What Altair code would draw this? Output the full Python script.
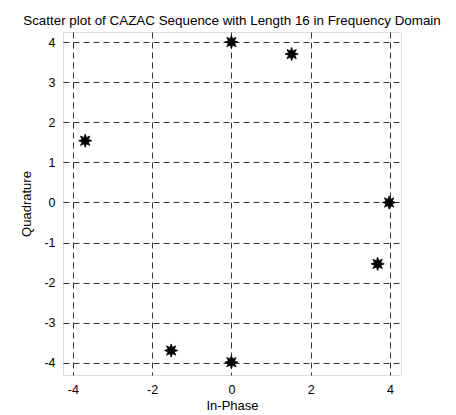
import math
import altair as alt
import pandas as pd

in_phase = [0.0, 1.52, -3.69, 3.98, 3.69, -1.52, 0.0]
quadrature = [4.0, 3.70, 1.54, 0.0, -1.53, -3.69, -3.98]
x_ticks = [-4, -2, 0, 2, 4]
y_ticks = [-4, -3, -2, -1, 0, 1, 2, 3, 4]

df = pd.DataFrame({"I": in_phase, "Q": quadrature})

# 8-pointed asterisk-like star marker (shape style only)
pts = []
for k in range(16):
    r = 1.0 if k % 2 == 0 else 0.5
    a = math.pi / 2 + k * math.pi / 8
    pts.append(f"{r * math.cos(a):.3f},{-r * math.sin(a):.3f}")
star = "M" + "L".join(pts) + "Z"

font = "Liberation Sans"

chart = alt.Chart(df).mark_point(
    shape=star, size=175, filled=True, fill="black", stroke="black", strokeWidth=0.8, opacity=1
).encode(
    x=alt.X("I:Q", scale=alt.Scale(domain=[-4.25, 4.28], nice=False, zero=False),
            axis=alt.Axis(values=x_ticks, title="In-Phase", labelExpr="'' + datum.value",
                          grid=True, gridColor="black", gridDash=[6, 4], gridOpacity=0.8,
                          domain=False, ticks=False, labelPadding=8,
                          labelFont=font, labelFontSize=12.5, labelColor="black",
                          titleFont=font, titleFontSize=13, titleFontWeight="normal",
                          titleColor="black", titlePadding=4)),
    y=alt.Y("Q:Q", scale=alt.Scale(domain=[-4.3, 4.25], nice=False, zero=False),
            axis=alt.Axis(values=y_ticks, title="Quadrature", labelExpr="'' + datum.value",
                          grid=True, gridColor="black", gridDash=[6, 4], gridOpacity=0.8,
                          domain=False, ticks=False, labelPadding=8,
                          labelFont=font, labelFontSize=12.5, labelColor="black",
                          titleFont=font, titleFontSize=13, titleFontWeight="normal",
                          titleColor="black", titlePadding=10)),
).properties(
    width=338,
    height=343,
    title=alt.TitleParams(
        "Scatter plot of CAZAC Sequence with Length 16 in Frequency Domain",
        font=font, fontSize=13.4, fontWeight="normal", color="black",
        anchor="middle", frame="group", offset=5,
    ),
    autosize=alt.AutoSizeParams(type="none"),
    padding={"left": 55, "top": 24, "right": 47, "bottom": 40},
).configure_view(stroke="black", strokeWidth=1).configure(background="white")

chart.save("out.html", embed_options={"renderer": "svg", "actions": False})
